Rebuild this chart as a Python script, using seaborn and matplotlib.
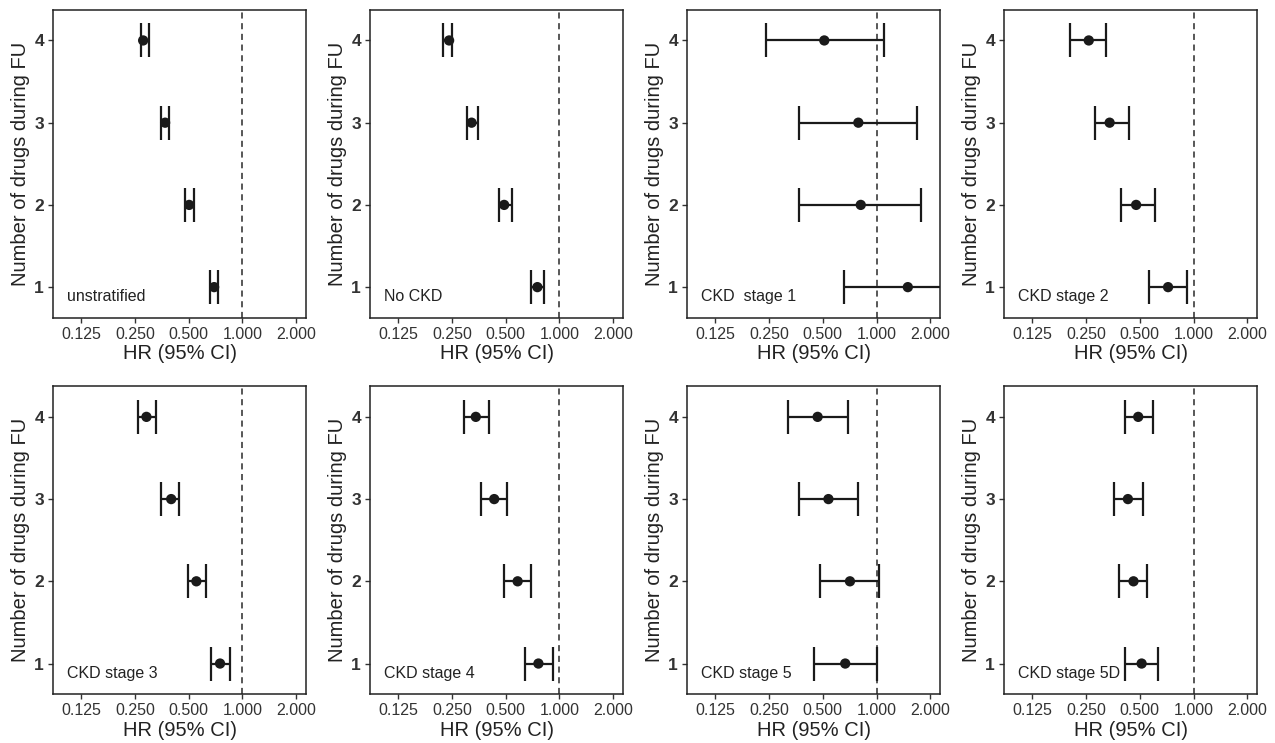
import matplotlib
matplotlib.use("Agg")
import matplotlib.pyplot as plt
import seaborn as sns
import pandas as pd
from matplotlib.ticker import NullLocator

# Panels and data, order of drugs: 1, 2, 3, 4
panels = ["unstratified", "No CKD", "CKD  stage 1", "CKD stage 2",
          "CKD stage 3", "CKD stage 4", "CKD stage 5", "CKD stage 5D"]
n_drugs = [1, 2, 3, 4]

hr_est = [
    [0.694, 0.503, 0.369, 0.278],
    [0.752, 0.490, 0.322, 0.241],
    [1.497, 0.816, 0.791, 0.510],
    [0.720, 0.477, 0.339, 0.259],
    [0.749, 0.552, 0.399, 0.290],
    [0.762, 0.583, 0.431, 0.340],
    [0.668, 0.710, 0.538, 0.468],
    [0.512, 0.461, 0.429, 0.490],
]
hr_lo = [
    [0.656, 0.475, 0.349, 0.270],
    [0.696, 0.460, 0.304, 0.222],
    [0.654, 0.368, 0.368, 0.241],
    [0.562, 0.393, 0.279, 0.203],
    [0.664, 0.493, 0.350, 0.260],
    [0.641, 0.490, 0.364, 0.291],
    [0.444, 0.482, 0.367, 0.318],
    [0.414, 0.381, 0.360, 0.414],
]
hr_hi = [
    [0.731, 0.536, 0.390, 0.300],
    [0.820, 0.544, 0.350, 0.250],
    [3.300, 1.781, 1.690, 1.095],
    [0.917, 0.608, 0.434, 0.322],
    [0.849, 0.622, 0.441, 0.330],
    [0.917, 0.693, 0.508, 0.404],
    [1.000, 1.035, 0.784, 0.689],
    [0.630, 0.548, 0.520, 0.592],
]

x_ticks = [0.125, 0.25, 0.5, 1.0, 2.0]
x_ticklabels = ["0.125", "0.250", "0.500", "1.000", "2.000"]

rows = []
for i, name in enumerate(panels):
    for j, n in enumerate(n_drugs):
        rows.append({"panel": name, "drugs": n, "hr": hr_est[i][j],
                     "lo": hr_lo[i][j], "hi": hr_hi[i][j]})
df = pd.DataFrame(rows)

sns.set_theme(style="white")
plt.rcParams["font.family"] = ["Liberation Sans", "DejaVu Sans"]

ink = "#1a1a1a"
fig, axes = plt.subplots(2, 4, figsize=(12.75, 7.43), dpi=100)
fig.subplots_adjust(left=0.0416, right=0.986, top=0.9865, bottom=0.066,
                    wspace=0.253, hspace=0.224)

for ax, name in zip(axes.flat, panels):
    d = df[df["panel"] == name]
    ax.axvline(1.0, color="#2a2a2a", ls=(0, (4, 3)), lw=1.1, zorder=1)
    ax.errorbar(d["hr"], d["drugs"], xerr=[d["hr"] - d["lo"], d["hi"] - d["hr"]],
                fmt="none", ecolor=ink, elinewidth=1.6, capsize=12,
                capthick=1.6, zorder=2)
    sns.scatterplot(data=d, x="hr", y="drugs", ax=ax, color=ink, s=55,
                    edgecolor="none", zorder=3)
    ax.set_xscale("log", base=2)
    ax.set_xlim(0.087, 2.27)
    ax.set_xticks(x_ticks)
    ax.set_xticklabels(x_ticklabels)
    ax.xaxis.set_minor_locator(NullLocator())
    ax.set_ylim(0.63, 4.37)
    ax.set_yticks(n_drugs)
    ax.set_yticklabels([str(n) for n in n_drugs], fontweight="bold", fontsize=12.5)
    ax.set_xlabel("HR (95% CI)", fontsize=14.5, color="#222222", labelpad=2)
    ax.set_ylabel("Number of drugs during FU", fontsize=14.5, color="#222222",
                  labelpad=3)
    ax.tick_params(axis="x", labelsize=11.5)
    ax.tick_params(direction="out", length=3.5, width=1, color="#333333",
                   labelcolor="#333333", bottom=True, left=True, pad=3)
    for sp in ax.spines.values():
        sp.set_visible(True)
        sp.set_color("#222222")
        sp.set_linewidth(1.1)
    ax.annotate(name, xy=(0.055, 0.88), xycoords=("axes fraction", "data"),
                fontsize=11.5, color="#222222", va="center", ha="left")

plt.savefig("out.png", dpi=100)
